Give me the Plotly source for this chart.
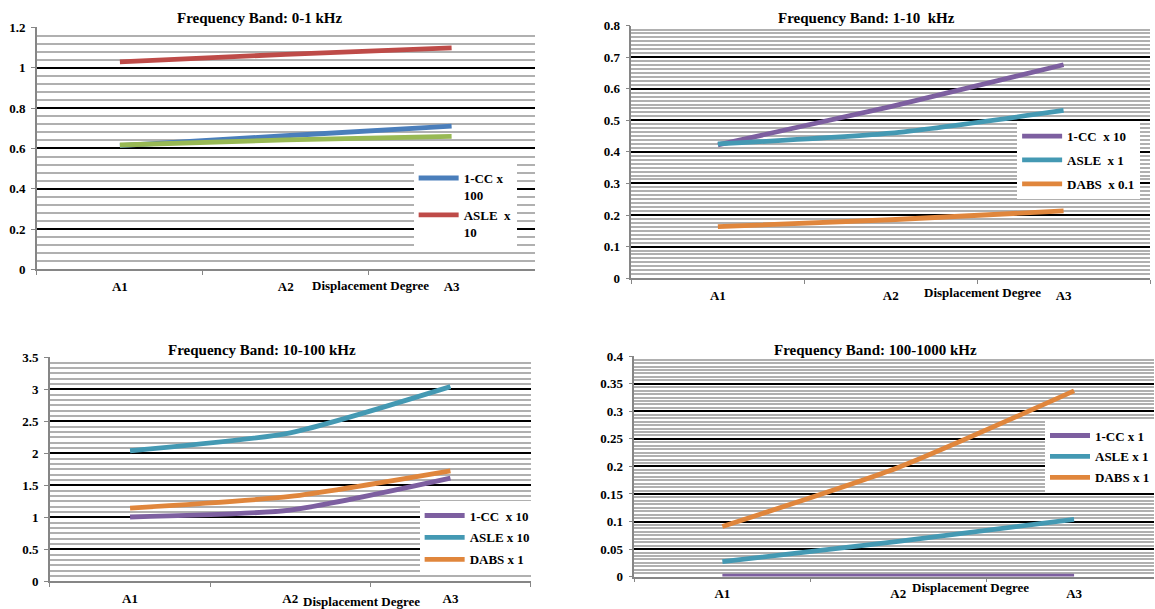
import plotly.graph_objects as go

categories = ["A1", "A2", "A3"]

# Panel 1: 0-1 kHz
p1_cc = [0.614, 0.663, 0.711]
p1_asle = [1.030, 1.067, 1.099]
p1_green = [0.617, 0.642, 0.660]

# Panel 2: 1-10 kHz
p2_cc = [0.422, 0.543, 0.676]
p2_asle = [0.425, 0.459, 0.531]
p2_dabs = [0.163, 0.185, 0.213]

# Panel 3: 10-100 kHz
p3_cc = [1.006, 1.115, 1.613]
p3_asle = [2.04, 2.32, 3.04]
p3_dabs = [1.146, 1.327, 1.727]

# Panel 4: 100-1000 kHz
p4_cc = [0.001, 0.001, 0.001]
p4_asle = [0.027, 0.064, 0.104]
p4_dabs = [0.091, 0.198, 0.337]

titles = ["Frequency Band: 0-1 kHz", "Frequency Band: 1-10  kHz",
          "Frequency Band: 10-100 kHz", "Frequency Band: 100-1000 kHz"]
xlabel = "Displacement Degree"

W, H = 1155, 609
FONT = "Liberation Serif"
BLUE, RED, GREEN = "#4A7EBB", "#BE4B48", "#98B954"
PURPLE, TEAL, ORANGE = "#7D5FA0", "#4499B3", "#E0863C"


def xd(a, b):
    return [a / W, min(b / W, 1.0)]


def yd(top, bottom):
    return [1 - bottom / H, 1 - top / H]


fig = go.Figure()


def add(x, y, name, color, xa, ya, legend, show=True, group=None):
    fig.add_trace(go.Scatter(
        x=x, y=y, name=name, mode="lines", line=dict(color=color, width=4.8, shape="spline", smoothing=0.6),
        xaxis=xa, yaxis=ya, legend=legend, showlegend=show, legendgroup=group,
        hoverinfo="skip"))


add(categories, p1_cc, "1-CC x<br>100", BLUE, "x", "y", "legend", group="a")
add(categories, p1_asle, "ASLE  x<br>10", RED, "x", "y", "legend", group="b")
add(categories, p1_green, "", GREEN, "x", "y", "legend", show=False)

add(categories, p2_cc, "1-CC  x 10", PURPLE, "x2", "y2", "legend2", group="a")
add(categories, p2_asle, "ASLE  x 1", TEAL, "x2", "y2", "legend2", group="b")
add(categories, p2_dabs, "DABS  x 0.1", ORANGE, "x2", "y2", "legend2", group="c")

add(categories, p3_cc, "1-CC  x 10", PURPLE, "x3", "y3", "legend3", group="a")
add(categories, p3_asle, "ASLE x 10", TEAL, "x3", "y3", "legend3", group="b")
add(categories, p3_dabs, "DABS x 1", ORANGE, "x3", "y3", "legend3", group="c")

add(categories, p4_cc, "1-CC x 1", PURPLE, "x4", "y4", "legend4", group="a")
add(categories, p4_asle, "ASLE x 1", TEAL, "x4", "y4", "legend4", group="b")
add(categories, p4_dabs, "DABS x 1", ORANGE, "x4", "y4", "legend4", group="c")

tickfont = dict(family=FONT, size=13, color="black", weight="bold")


def xaxis(dom, yname, rng):
    return dict(domain=dom, anchor=yname, type="category", range=rng,
                tickson="boundaries", ticks="outside", ticklen=4, tickcolor="#868686",
                showline=True, linecolor="#868686", linewidth=1.5, showgrid=False,
                tickfont=tickfont, ticklabelstandoff=4, fixedrange=True)


def yaxis(dom, xname, rng, dtick, minor):
    return dict(domain=dom, anchor=xname, range=rng, dtick=dtick, tick0=0,
                ticks="outside", ticklen=4, tickcolor="#868686",
                showline=True, linecolor="#868686", linewidth=1.5,
                showgrid=True, gridcolor="black", gridwidth=1.5, zeroline=False,
                minor=dict(dtick=minor, tick0=0, showgrid=True, gridcolor="#b0b0b0", gridwidth=1.5, ticks=""),
                tickfont=tickfont, ticklabelstandoff=3, fixedrange=True)


legend_common = dict(bgcolor="white", borderwidth=0, font=dict(family=FONT, size=13, color="black", weight="bold"),
                     xanchor="left", yanchor="top", traceorder="grouped", valign="top", itemwidth=40)

fig.update_layout(
    width=W, height=H, margin=dict(l=0, r=0, t=0, b=0),
    paper_bgcolor="white", plot_bgcolor="white",
    xaxis=xaxis(xd(37, 535), "y", [-0.5, 2.5]),
    yaxis=yaxis(yd(21, 269), "x", [0, 1.2001], 0.2, 0.04),
    xaxis2=xaxis(xd(632, 1151), "y2", [-0.5, 2.5]),
    yaxis2=yaxis(yd(19, 278), "x2", [0, 0.8001], 0.1, 0.0125),
    xaxis3=xaxis(xd(50, 531), "y3", [-0.5, 2.5]),
    yaxis3=yaxis(yd(359, 589), "x3", [0, 3.5001], 0.5, 0.5 / 6),
    xaxis4=xaxis(xd(635, 1155), "y4", [-0.5, -0.5 + 3 * 520 / 528]),
    yaxis4=yaxis(yd(358, 584), "x4", [0, 0.40001], 0.05, 0.00625),
    legend=dict(legend_common, x=414 / W, y=1 - 160 / H, tracegroupgap=0),
    legend2=dict(legend_common, x=1018 / W, y=1 - 117 / H, tracegroupgap=4),
    legend3=dict(legend_common, x=420 / W, y=1 - 506 / H, tracegroupgap=2),
    legend4=dict(legend_common, x=1046 / W, y=1 - 424 / H, tracegroupgap=1),
    showlegend=True,
)

ann_font_title = dict(family=FONT, size=15, color="black", weight="bold")
ann_font_lab = dict(family=FONT, size=13, color="black", weight="bold")
title_pos = [(260, 11), (867, 11), (262, 352), (876, 352)]
for t, (cx, cy) in zip(titles, title_pos):
    fig.add_annotation(text=t, x=cx / W, y=1 - cy / H, xref="paper", yref="paper",
                       xanchor="center", yanchor="middle", showarrow=False, font=ann_font_title)
lab_pos = [(371, 286), (983, 293), (362, 609), (971, 595)]
for (cx, cy) in lab_pos:
    fig.add_annotation(text=xlabel, x=cx / W, y=1 - cy / H, xref="paper", yref="paper",
                       xanchor="center", yanchor="middle", showarrow=False, font=ann_font_lab)

fig.write_html("out.html", config={"displayModeBar": False},
               post_script="document.body.style.margin='0';")
